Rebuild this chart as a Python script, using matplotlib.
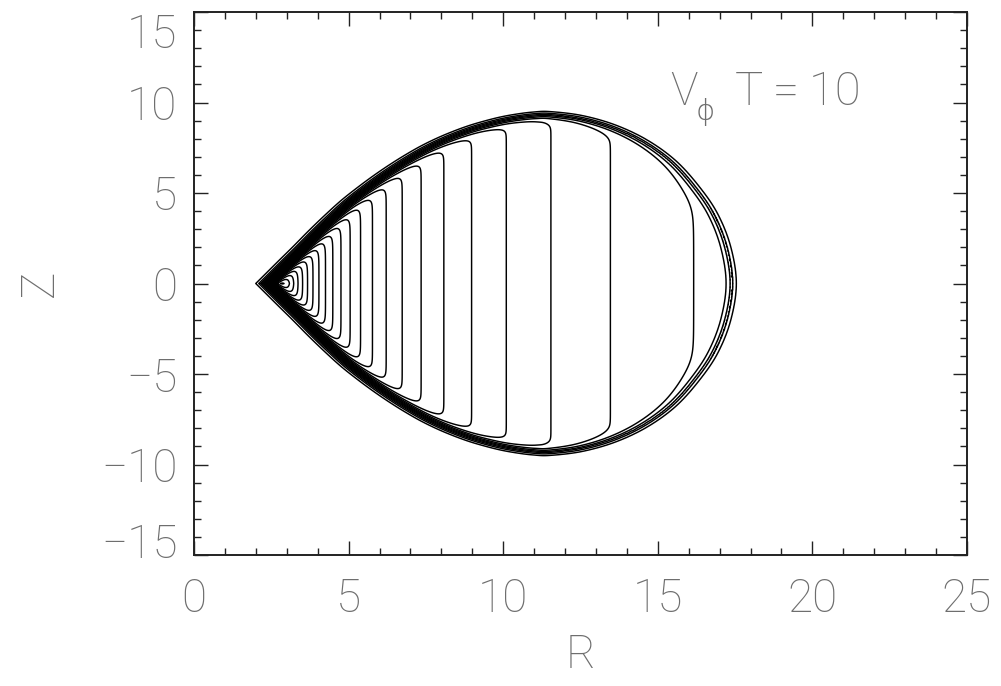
import numpy as np
import matplotlib
matplotlib.use("Agg")
import matplotlib.pyplot as plt
from matplotlib.ticker import MultipleLocator
from matplotlib.transforms import ScaledTranslation

# Upper rim of the torus (R, z): just below the outer edge, over the top,
# down to the cusp and a little past it
rim_r = [17.22, 17.40, 17.22, 16.80, 16.20, 15.45, 14.55, 13.55,
         12.50, 11.50, 11.00, 10.50, 10.00, 9.50, 9.00, 8.50, 8.00, 7.50,
         7.00, 6.50, 6.00, 5.50, 5.00, 4.50, 4.00, 3.50, 3.00, 2.46, 2.20]
rim_z = [-2.00, 0.00, 2.00, 3.80, 5.30, 6.70, 7.80, 8.60,
         9.10, 9.30, 9.27, 9.16, 9.00, 8.78, 8.52, 8.20, 7.83, 7.40,
         6.90, 6.35, 5.75, 5.10, 4.40, 3.60, 2.75, 1.85, 0.97, 0.00, -0.47]

# V_phi ~ l / R inside the torus; contour levels in steps of 0.0125
ang_mom = 1.01
level_step = 0.0125
n_levels = 30
rim_width = 0.22

x_ticks = [0, 5, 10, 15, 20, 25]
y_ticks = [-15, -10, -5, 0, 5, 10, 15]


def catmull_rom(px, py, per_seg=25):
    p = np.column_stack([px, py])
    p = np.vstack([2 * p[0] - p[1], p, 2 * p[-1] - p[-2]])
    out = []
    t = np.linspace(0, 1, per_seg, endpoint=False)[:, None]
    for i in range(1, len(p) - 2):
        p0, p1, p2, p3 = p[i - 1], p[i], p[i + 1], p[i + 2]
        out.append(0.5 * ((2 * p1) + (-p0 + p2) * t
                          + (2 * p0 - 5 * p1 + 4 * p2 - p3) * t ** 2
                          + (-p0 + 3 * p1 - 3 * p2 + p3) * t ** 3))
    out.append(p[-2][None, :])
    return np.vstack(out)


def signed_distance(gr, gz, curve):
    tang = np.gradient(curve, axis=0)
    tang /= np.linalg.norm(tang, axis=1)[:, None]
    normal = np.column_stack([-tang[:, 1], tang[:, 0]])   # points inward
    res = np.empty(gr.shape)
    for i in range(gr.shape[0]):
        dx = gr[i][:, None] - curve[None, :, 0]
        dz = gz[i][:, None] - curve[None, :, 1]
        d2 = dx * dx + dz * dz
        k = np.argmin(d2, axis=1)
        idx = np.arange(len(k))
        sgn = np.sign(dx[idx, k] * normal[k, 0] + dz[idx, k] * normal[k, 1])
        res[i] = sgn * np.sqrt(d2[idx, k])
    return res


rr = np.linspace(0.8, 19.5, 560)
zz = np.linspace(-11.5, 11.5, 691)
R, Z = np.meshgrid(rr, zz)

# the torus is symmetric about the equator: measure depth from the upper rim
rim = catmull_rom(rim_r, rim_z)
depth = signed_distance(R, np.abs(Z), rim)

vphi = ang_mom / R * 0.5 * (1.0 + np.tanh(depth / rim_width))
levels = level_step * np.arange(1, n_levels + 1)

fig = plt.figure(figsize=(10.01, 6.86), dpi=100)
ax = fig.add_axes([194 / 1001, 1 - 555 / 686, 773 / 1001, 543 / 686])
ax.contour(R, Z, vphi, levels=levels, colors="black", linewidths=1.05)

ax.set_xlim(0, 25)
ax.set_ylim(-15, 15)

text_color = "#6e6e6e"
font = dict(family=["Roboto", "DejaVu Sans"], weight="light", color=text_color)

ax.xaxis.set_minor_locator(MultipleLocator(1))
ax.yaxis.set_minor_locator(MultipleLocator(1))
ax.set_xticks(x_ticks)
ax.set_yticks(y_ticks)
ax.set_xticklabels([str(v) for v in x_ticks], fontdict=font, fontsize=33)
ax.set_yticklabels([str(v).replace("-", "\u2212") for v in y_ticks],
                   fontdict=font, fontsize=33)
ax.tick_params(which="both", direction="in", top=True, right=True,
               color="#222222", width=1.0)
ax.tick_params(which="major", length=10)
ax.tick_params(which="minor", length=5)
ax.tick_params(axis="x", which="major", pad=16)
ax.tick_params(axis="y", which="major", pad=12)
for sp in ax.spines.values():
    sp.set_color("#222222")
    sp.set_linewidth(1.4)

# end labels on the vertical axis sit inside the frame
ylabels = ax.get_yticklabels()
ylabels[-1].set_transform(ylabels[-1].get_transform()
                          + ScaledTranslation(0, -18 / 100, fig.dpi_scale_trans))
ylabels[0].set_transform(ylabels[0].get_transform()
                         + ScaledTranslation(0, 15 / 100, fig.dpi_scale_trans))

ax.set_xlabel("R", fontdict=font, fontsize=33)
ax.xaxis.set_label_coords(0.5, -0.184)
ax.xaxis.label.set_va("center")
ax.set_ylabel("Z", fontdict=font, fontsize=33)
ax.yaxis.set_label_coords(-0.2, 0.5)
ax.yaxis.label.set_va("center")

ax.text(15.4, 10.6, "V", ha="left", va="center", fontsize=33, **font)
ax.text(16.55, 9.5, "\u03d5", ha="center", va="center", fontsize=21,
        family=["DejaVu Sans"], weight="light", color=text_color)
ax.text(17.5, 10.6, "T\u2009=\u200910", ha="left", va="center", fontsize=34, **font)

fig.savefig("out.png", dpi=100)
